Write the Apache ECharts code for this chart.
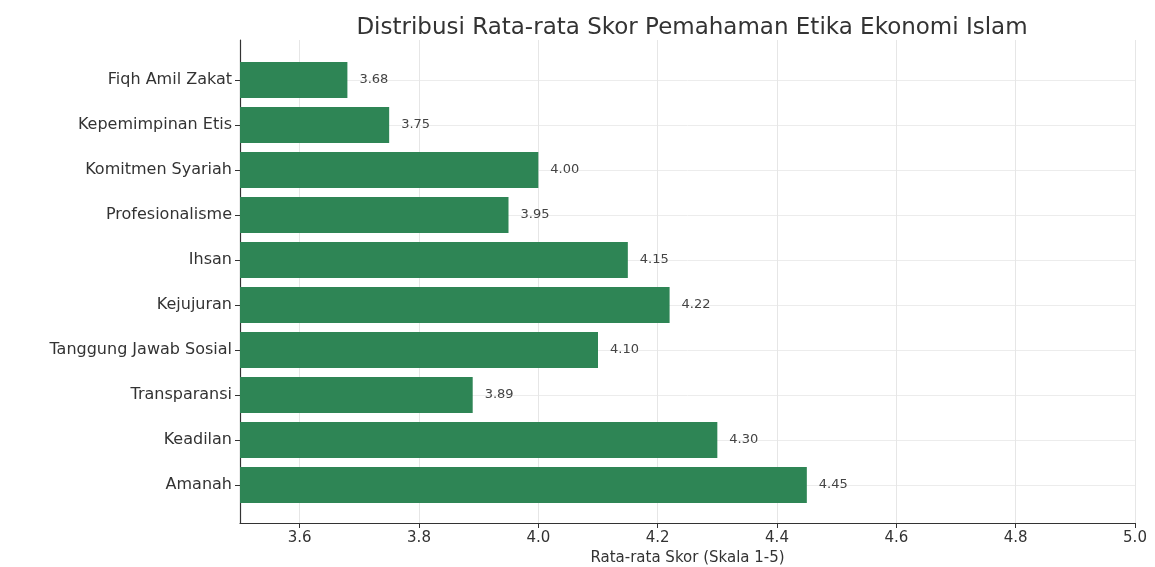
<!DOCTYPE html>
<html><head><meta charset="utf-8">
<script src="https://cdn.jsdelivr.net/npm/echarts@6/dist/echarts.min.js"></script>
<style>html,body{margin:0;padding:0;background:#fff}#c{width:1155px;height:567px}</style>
</head><body><div id="c"></div>
<script>
const titleText = 'Distribusi Rata-rata Skor Pemahaman Etika Ekonomi Islam';
const xAxisName = 'Rata-rata Skor (Skala 1-5)';
const categories = ['Fiqh Amil Zakat','Kepemimpinan Etis','Komitmen Syariah','Profesionalisme','Ihsan','Kejujuran','Tanggung Jawab Sosial','Transparansi','Keadilan','Amanah'];
const scores = [3.68, 3.75, 4.00, 3.95, 4.15, 4.22, 4.10, 3.89, 4.30, 4.45];
const xTicks = [3.6, 3.8, 4.0, 4.2, 4.4, 4.6, 4.8, 5.0];
const xMin = 3.5, xMax = 5.0;

const font = 'DejaVu Sans';
const chart = echarts.init(document.getElementById('c'), null, {renderer:'canvas'});
chart.setOption({
  animation: false,
  backgroundColor: '#fff',
  title: { text: titleText, left: 687, top: 12, textAlign: 'center',
    textStyle: { fontFamily: font, fontSize: 23, fontWeight: 'normal', color: '#333' } },
  grid: [
    { left: 240, right: 20, top: 57.5, bottom: 59.5, outerBoundsMode: 'none', containLabel: false },   // bars
    { left: 240, right: 20, top: 40, bottom: 44, outerBoundsMode: 'none', containLabel: false },       // frame, x axis
    { left: 240, right: 20, top: 80, bottom: 82, outerBoundsMode: 'none', containLabel: false }         // category grid lines
  ],
  xAxis: [
    { gridIndex: 0, type: 'value', min: xMin, max: xMax, show: false },
    { gridIndex: 1, type: 'value', min: xMin, max: xMax,
      name: xAxisName, nameLocation: 'middle', nameGap: 27,
      nameTextStyle: { fontFamily: font, fontSize: 15, color: '#333' },
      axisLine: { show: true, lineStyle: { color: '#333', width: 1.2 } },
      axisTick: { show: true, length: 5, customValues: xTicks, lineStyle: { color: '#333' } },
      axisLabel: { customValues: xTicks, margin: 8, fontFamily: font, fontSize: 15, color: '#333',
        formatter: v => v.toFixed(1) },
      splitLine: { show: true, lineStyle: { color: '#e6e6e6', width: 1 } } },
    { gridIndex: 2, type: 'value', min: xMin, max: xMax, show: false }
  ],
  yAxis: [
    { gridIndex: 0, type: 'category', inverse: true, data: categories,
      axisLine: { show: false }, axisTick: { show: false },
      axisLabel: { margin: 8, fontFamily: font, fontSize: 16, color: '#333' },
      splitLine: { show: false } },
    { gridIndex: 1, type: 'value', min: 0, max: 1,
      axisLine: { show: true, lineStyle: { color: '#333', width: 1.2 } },
      axisTick: { show: false }, axisLabel: { show: false }, splitLine: { show: false } },
    { gridIndex: 2, type: 'category', inverse: true, data: categories, boundaryGap: false,
      axisLine: { show: false },
      axisTick: { show: true, length: 5, lineStyle: { color: '#333' } },
      axisLabel: { show: false },
      splitLine: { show: true, lineStyle: { color: '#ececec', width: 1 } } }
  ],
  series: [{
    type: 'bar', xAxisIndex: 0, yAxisIndex: 0, data: scores,
    barWidth: 36,
    itemStyle: { color: '#2e8555' },
    label: { show: true, position: 'right', distance: 12, formatter: p => p.value.toFixed(2),
      fontFamily: font, fontSize: 13, color: '#444' },
    z: 3
  }]
});
</script></body></html>
